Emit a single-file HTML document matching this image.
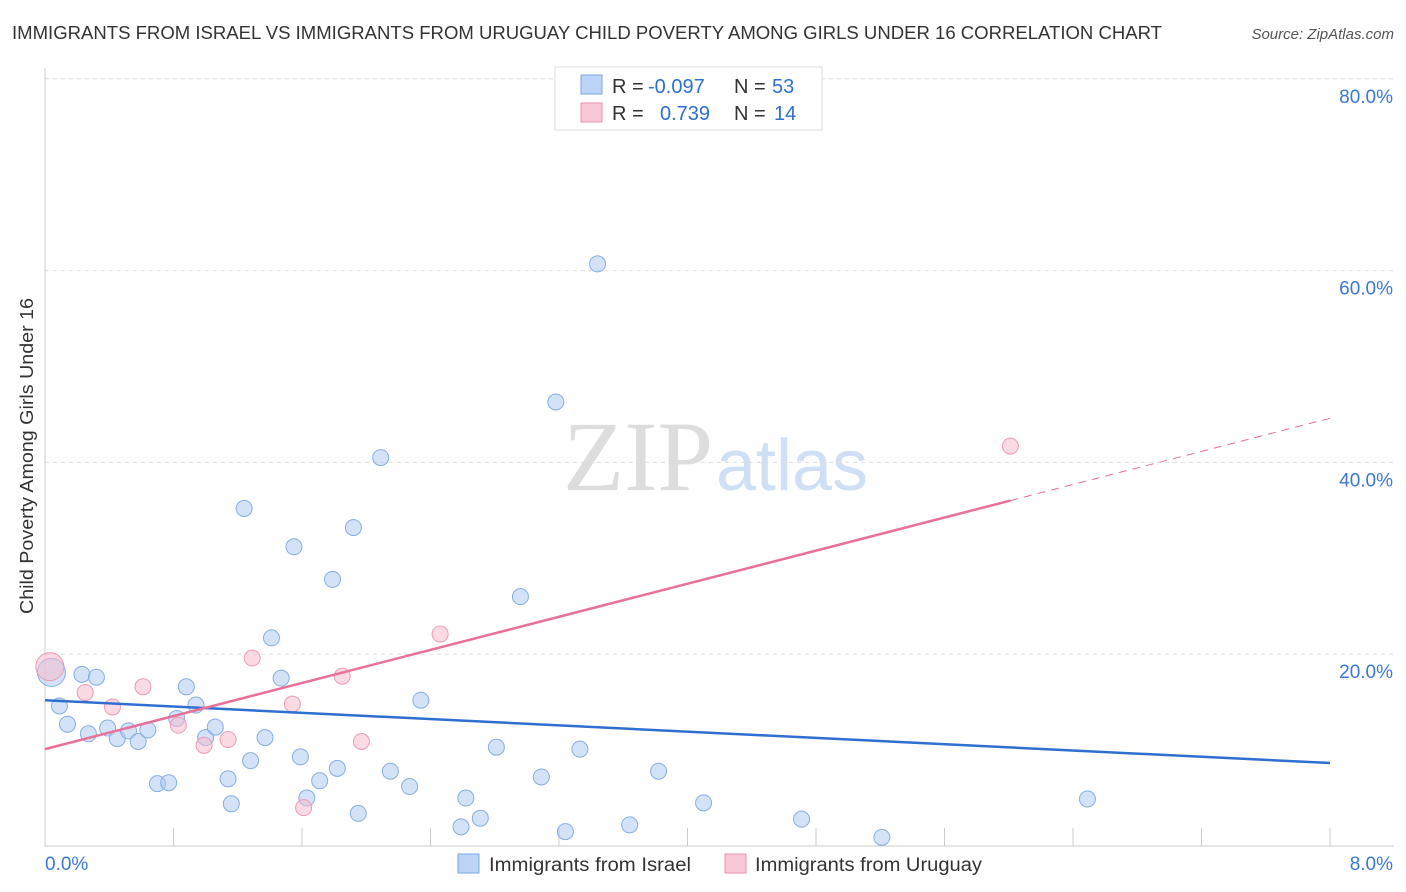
<!DOCTYPE html>
<html><head><meta charset="utf-8"><style>
body{margin:0;background:#fff;font-family:"Liberation Sans",sans-serif}
#c{position:relative;width:1406px;height:892px;overflow:hidden}
</style></head><body>
<div id="c">
<svg id="s" width="1406" height="892">
<text x="12" y="39" font-size="18" fill="#333" textLength="1150" lengthAdjust="spacingAndGlyphs">IMMIGRANTS FROM ISRAEL VS IMMIGRANTS FROM URUGUAY CHILD POVERTY AMONG GIRLS UNDER 16 CORRELATION CHART</text>
<text x="1394" y="39" font-size="15" fill="#555" text-anchor="end" font-style="italic">Source: ZipAtlas.com</text>
<text x="33" y="456" font-size="18" fill="#333" text-anchor="middle" textLength="316" lengthAdjust="spacingAndGlyphs" transform="rotate(-90 33 456)">Child Poverty Among Girls Under 16</text>
<text x="713" y="490" font-size="100" fill="#ddd" text-anchor="end" font-family="Liberation Serif">ZIP</text>
<text x="716" y="490" font-size="72" fill="#cfe0f5">atlas</text>
<g id="grid"></g><g id="marks"></g>
<g>
<rect x="555" y="67" width="267" height="63" fill="#fff" stroke="#ddd"/>
<rect x="581" y="75" width="21" height="19" fill="#bcd4f5" stroke="#7aa6e0"/>
<rect x="581" y="103" width="21" height="19" fill="#f9c8d7" stroke="#ec8fae"/>
<text x="612" y="93" font-size="20" fill="#333">R = </text><text x="648" y="93" font-size="20" fill="#2f6fd0">-0.097</text>
<text x="734" y="93" font-size="20" fill="#333">N = </text><text x="772" y="93" font-size="20" fill="#2f6fd0">53</text>
<text x="612" y="120" font-size="20" fill="#333">R = </text><text x="660" y="120" font-size="20" fill="#2f6fd0">0.739</text>
<text x="734" y="120" font-size="20" fill="#333">N = </text><text x="774" y="120" font-size="20" fill="#2f6fd0">14</text>
</g>
<g>
<rect x="458" y="854" width="21" height="19" fill="#bcd4f5" stroke="#7aa6e0"/>
<text x="489" y="871" font-size="19" fill="#333" textLength="202" lengthAdjust="spacingAndGlyphs">Immigrants from Israel</text>
<rect x="725" y="854" width="21" height="19" fill="#f9c8d7" stroke="#ec8fae"/>
<text x="755" y="871" font-size="19" fill="#333" textLength="227" lengthAdjust="spacingAndGlyphs">Immigrants from Uruguay</text>
</g>
</svg></div>
<script>
const israelX=[0.04,0.09,0.14,0.23,0.32,0.27,0.39,0.45,0.52,0.58,0.64,0.70,0.77,0.82,0.88,0.94,1.00,1.06,1.14,1.16,1.24,1.28,1.37,1.41,1.47,1.55,1.59,1.63,1.71,1.79,1.82,1.92,1.95,2.09,2.15,2.27,2.34,2.59,2.62,2.71,2.81,2.96,3.09,3.18,3.24,3.33,3.44,3.64,3.82,4.10,4.71,5.21,6.49];
const israelY=[18.1,14.6,12.7,17.9,17.6,11.7,12.3,11.2,12.0,10.9,12.1,6.5,6.6,13.3,16.6,14.7,11.3,12.4,7.0,4.4,35.2,8.9,11.3,21.7,17.5,31.2,9.3,5.0,6.8,27.8,8.1,33.2,3.4,40.5,7.8,6.2,15.2,2.0,5.0,2.9,10.3,26.0,7.2,46.3,1.5,10.1,60.7,2.2,7.8,4.5,2.8,0.9,4.9];
const uruguayX=[0.03,0.25,0.42,0.61,0.83,0.99,1.14,1.29,1.54,1.61,1.85,1.97,2.46,6.01];
const uruguayY=[18.7,16.0,14.5,16.6,12.6,10.5,11.1,19.6,14.8,4.0,17.7,10.9,22.1,41.7];
const israelTrend=[15.2,8.65];
const uruguayTrend=[10.1,44.6];
const yTicks=[20,40,60,80];
const xTickLabels=["0.0%","8.0%"];
const NS="http://www.w3.org/2000/svg";
const X=v=>45+v/8*1285, Y=v=>846-v*9.59;
function mk(t,a,p){const e=document.createElementNS(NS,t);for(const k in a)e.setAttribute(k,a[k]);p.appendChild(e);return e;}
const g=document.getElementById('grid'),m=document.getElementById('marks');
yTicks.forEach(t=>{const l=mk('line',{x1:45,x2:1394,y1:Y(t),y2:Y(t),stroke:'#ddd','stroke-dasharray':'4,4'},g);


const tx=mk('text',{x:1393,y:Y(t)+24,'font-size':19,fill:'#3a78d8','text-anchor':'end'},g);tx.textContent=t.toFixed(1)+'%';

});
mk('line',{x1:45,x2:45,y1:68,y2:846,stroke:'#ccc'},g);
mk('line',{x1:45,x2:1394,y1:846,y2:846,stroke:'#ccc'},g);
for(let i=0;i<=10;i++){mk('line',{x1:X(i*0.8),x2:X(i*0.8),y1:828,y2:846,stroke:'#ccc'},g);}
const x0=mk('text',{x:45,y:870,'font-size':19,fill:'#3a78d8'},g);x0.textContent=xTickLabels[0];


const x1=mk('text',{x:1393,y:870,'font-size':19,fill:'#3a78d8','text-anchor':'end'},g);x1.textContent=xTickLabels[1];


israelX.forEach((v,i)=>{const c=mk('circle',{cx:X(v),cy:Y(israelY[i]),r:i==0?14:8,fill:'rgba(174,203,240,0.55)',stroke:'#86aee3','stroke-width':1},m);

});
uruguayX.forEach((v,i)=>{const c=mk('circle',{cx:X(v),cy:Y(uruguayY[i]),r:i==0?14:8,fill:'rgba(247,188,205,0.55)',stroke:'#ee9ab6','stroke-width':1},m);

});
const bl=mk('line',{x1:X(0),y1:Y(israelTrend[0]),x2:X(8),y2:Y(israelTrend[1]),stroke:'#2f6fd0','stroke-width':2.5},m);


const pe=6.01,py=uruguayTrend[0]+(uruguayTrend[1]-uruguayTrend[0])*pe/8;
const pl=mk('line',{x1:X(0),y1:Y(uruguayTrend[0]),x2:X(pe),y2:Y(py),stroke:'#e8709a','stroke-width':2.5},m);


const pd=mk('line',{x1:X(pe),y1:Y(py),x2:X(8),y2:Y(uruguayTrend[1]),stroke:'#e8709a','stroke-width':1,'stroke-dasharray':'8,6'},m);


</script>
</body></html>
